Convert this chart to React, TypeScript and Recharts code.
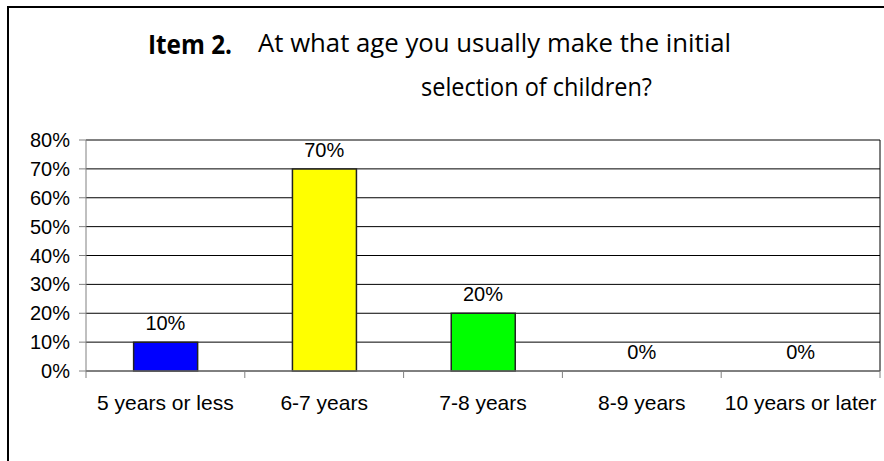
import React from "react";
import {
  ComposedChart,
  Bar,
  Line,
  XAxis,
  YAxis,
  CartesianGrid,
  Cell,
  LabelList,
} from "recharts";

const categories = [
  "5 years or less",
  "6-7 years",
  "7-8 years",
  "8-9 years",
  "10 years or later",
];
const shares = [0.1, 0.7, 0.2, 0, 0];
const barColors = ["#0000ff", "#ffff00", "#00ff00", "#c0c0c0", "#c0c0c0"];
const yTicks = [0, 0.1, 0.2, 0.3, 0.4, 0.5, 0.6, 0.7, 0.8];

const data = categories.map((name, i) => ({ name, value: shares[i] }));

const pct = (v: number) => `${Math.round(v * 100)}%`;
const axisFont = "'Liberation Sans', Arial, sans-serif";
const titleFont = "'Open Sans', Lato, sans-serif";

// category label plus Excel-style tick marks on the band edges
function CategoryTick(props: any) {
  const { x, y, payload, index, visibleTicksCount } = props;
  const half = payload?.offset ?? 0;
  const axisY = y - 24;
  const last = index === (visibleTicksCount ?? categories.length) - 1;
  return (
    <g>
      <line
        x1={x - half}
        x2={x - half}
        y1={axisY}
        y2={axisY + 7}
        stroke="#808080"
      />
      {last && (
        <line
          x1={x + half}
          x2={x + half}
          y1={axisY}
          y2={axisY + 7}
          stroke="#808080"
        />
      )}
      <text
        x={x}
        y={y}
        dy="0.71em"
        textAnchor="middle"
        fill="#000"
        fontSize={21}
        fontFamily={axisFont}
      >
        {payload.value}
      </text>
    </g>
  );
}

export default function App() {
  return (
    <div
      style={{
        position: "relative",
        width: 884,
        height: 461,
        overflow: "hidden",
        background: "#fff",
      }}
    >
      <style>{"body{margin:0;overflow:hidden}"}</style>
      {/* chart frame, only left/top edges fall inside the picture */}
      <div
        style={{
          position: "absolute",
          left: 7,
          top: 6,
          width: 920,
          height: 520,
          border: "2px solid #000",
        }}
      />

      <svg
        width={884}
        height={120}
        style={{ position: "absolute", left: 0, top: 0 }}
      >
        <text
          x={148}
          y={54}
          textLength={84}
          lengthAdjust="spacingAndGlyphs"
          fontFamily={titleFont}
          fontWeight="bold"
          fontSize={26}
          fill="#000"
        >
          Item 2.
        </text>
        <text
          x={258}
          y={52}
          textLength={473}
          lengthAdjust="spacingAndGlyphs"
          fontFamily={titleFont}
          fontSize={26}
          fill="#000"
        >
          At what age you usually make the initial
        </text>
        <text
          x={421}
          y={96}
          textLength={231}
          lengthAdjust="spacingAndGlyphs"
          fontFamily={titleFont}
          fontSize={26}
          fill="#000"
        >
          selection of children?
        </text>
      </svg>

      <div style={{ position: "absolute", left: 0, top: 0 }}>
        <ComposedChart
          width={884}
          height={461}
          data={data}
          margin={{ top: 140, right: 4, left: 0, bottom: 50 }}
          barCategoryGap="30%"
        >
          <CartesianGrid
            stroke="#000"
            strokeWidth={1}
            horizontal
            vertical
            verticalCoordinatesGenerator={({ offset }: any) => [
              offset.left + offset.width,
            ]}
          />
          <XAxis
            dataKey="name"
            height={40}
            tickSize={7}
            tickMargin={17}
            tickLine={false}
            axisLine={{ stroke: "#808080" }}
            interval={0}
            tick={<CategoryTick />}
          />
          <YAxis
            width={86}
            domain={[0, 0.8]}
            ticks={yTicks}
            tickFormatter={pct}
            tickSize={7}
            tickMargin={9}
            axisLine={{ stroke: "#808080" }}
            tickLine={{ stroke: "#808080" }}
            tick={{ fill: "#000", fontSize: 20, fontFamily: axisFont }}
          />
          <Bar
            dataKey="value"
            stroke="#222"
            strokeWidth={1.5}
            isAnimationActive={false}
          >
            {data.map((d, i) => (
              <Cell key={d.name} fill={barColors[i]} />
            ))}
          </Bar>
          {/* invisible carrier so that 0% values get a label too */}
          <Line
            dataKey="value"
            stroke="none"
            dot={false}
            activeDot={false}
            legendType="none"
            isAnimationActive={false}
          >
            <LabelList
              dataKey="value"
              position="top"
              offset={12}
              formatter={(v: any) => pct(Number(v))}
              style={{ fill: "#000", fontSize: 20, fontFamily: axisFont }}
            />
          </Line>
        </ComposedChart>
      </div>
    </div>
  );
}
